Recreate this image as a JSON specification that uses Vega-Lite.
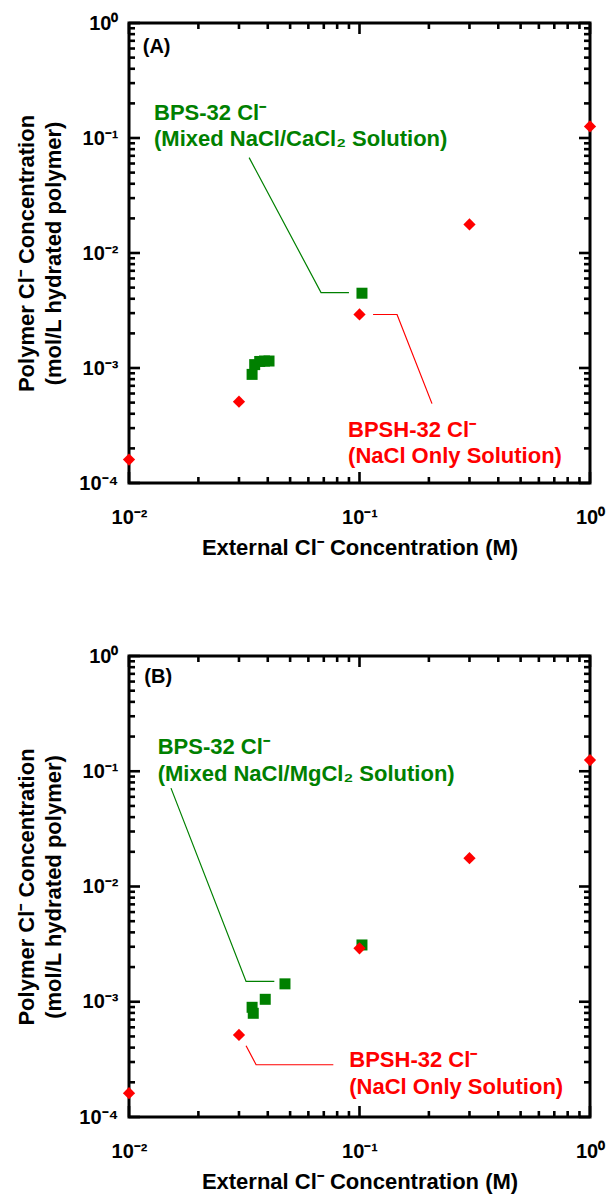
{
  "$schema": "https://vega.github.io/schema/vega-lite/v6.json",
  "background": "white",
  "padding": {"left": 14, "top": 11, "right": 5, "bottom": 3},
  "config": {
    "font": "Liberation Sans",
    "view": {"stroke": "black", "strokeWidth": 3},
    "tick": {"thickness": 2.6, "color": "black", "opacity": 1},
    "axis": {"grid": false, "domain": false, "ticks": false, "labelFlush": false, "labelOverlap": false, "labelColor": "black", "labelFontWeight": "bold", "labelFontSize": 20, "titleColor": "black", "titleFontWeight": "bold", "titleFontSize": 22, "titleLineHeight": 27}
  },
  "datasets": {
    "points": [
      {"panel": "A", "series": "BPS", "x": 0.0342, "y": 0.00088},
      {"panel": "A", "series": "BPS", "x": 0.0351, "y": 0.00107},
      {"panel": "A", "series": "BPS", "x": 0.0369, "y": 0.00114},
      {"panel": "A", "series": "BPS", "x": 0.0387, "y": 0.00115},
      {"panel": "A", "series": "BPS", "x": 0.0405, "y": 0.00115},
      {"panel": "A", "series": "BPS", "x": 0.1025, "y": 0.00447},
      {"panel": "A", "series": "BPSH", "x": 0.01, "y": 0.00016},
      {"panel": "A", "series": "BPSH", "x": 0.03, "y": 0.00051},
      {"panel": "A", "series": "BPSH", "x": 0.1, "y": 0.00292},
      {"panel": "A", "series": "BPSH", "x": 0.3, "y": 0.0177},
      {"panel": "A", "series": "BPSH", "x": 1, "y": 0.126},
      {"panel": "B", "series": "BPS", "x": 0.0342, "y": 0.000895},
      {"panel": "B", "series": "BPS", "x": 0.0346, "y": 0.000794},
      {"panel": "B", "series": "BPS", "x": 0.039, "y": 0.00105},
      {"panel": "B", "series": "BPS", "x": 0.0475, "y": 0.00143},
      {"panel": "B", "series": "BPS", "x": 0.1025, "y": 0.00311},
      {"panel": "B", "series": "BPSH", "x": 0.01, "y": 0.000161},
      {"panel": "B", "series": "BPSH", "x": 0.03, "y": 0.000515},
      {"panel": "B", "series": "BPSH", "x": 0.1, "y": 0.00291},
      {"panel": "B", "series": "BPSH", "x": 0.3, "y": 0.0176},
      {"panel": "B", "series": "BPSH", "x": 1, "y": 0.125}
    ],
    "leaders": [
      {"panel": "A", "series": "BPS", "ord": 1, "x": 0.0332, "y": 0.0675},
      {"panel": "A", "series": "BPS", "ord": 2, "x": 0.0681, "y": 0.00453},
      {"panel": "A", "series": "BPS", "ord": 3, "x": 0.09, "y": 0.00453},
      {"panel": "A", "series": "BPSH", "ord": 1, "x": 0.1145, "y": 0.00292},
      {"panel": "A", "series": "BPSH", "ord": 2, "x": 0.1455, "y": 0.00292},
      {"panel": "A", "series": "BPSH", "ord": 3, "x": 0.2063, "y": 0.00049},
      {"panel": "B", "series": "BPS", "ord": 1, "x": 0.01521, "y": 0.0714},
      {"panel": "B", "series": "BPS", "ord": 2, "x": 0.0322, "y": 0.0015},
      {"panel": "B", "series": "BPS", "ord": 3, "x": 0.0427, "y": 0.0015},
      {"panel": "B", "series": "BPSH", "ord": 1, "x": 0.0322, "y": 0.000415},
      {"panel": "B", "series": "BPSH", "ord": 2, "x": 0.0356, "y": 0.000284},
      {"panel": "B", "series": "BPSH", "ord": 3, "x": 0.077, "y": 0.000284}
    ],
    "notes": [
      {"panel": "A", "series": "BPS", "x": 0.01284, "y": 0.1423, "text": "BPS-32 Cl⁻\n(Mixed NaCl/CaCl₂ Solution)"},
      {"panel": "A", "series": "BPSH", "x": 0.0892, "y": 0.000253, "text": "BPSH-32 Cl⁻\n(NaCl Only Solution)"},
      {"panel": "B", "series": "BPS", "x": 0.01332, "y": 0.1416, "text": "BPS-32 Cl⁻\n(Mixed NaCl/MgCl₂ Solution)"},
      {"panel": "B", "series": "BPSH", "x": 0.0903, "y": 0.000271, "text": "BPSH-32 Cl⁻\n(NaCl Only Solution)"}
    ],
    "tags": [
      {"panel": "A", "x": 0.01147, "y": 0.548, "text": "(A)"},
      {"panel": "B", "x": 0.01165, "y": 0.581, "text": "(B)"}
    ],
    "tickvals": [
      {"dim": "x", "value": 0.01, "grade": "major"}, {"dim": "x", "value": 0.02, "grade": "minor"}, {"dim": "x", "value": 0.03, "grade": "minor"}, {"dim": "x", "value": 0.04, "grade": "minor"}, {"dim": "x", "value": 0.05, "grade": "minor"}, {"dim": "x", "value": 0.06, "grade": "minor"}, {"dim": "x", "value": 0.07, "grade": "minor"}, {"dim": "x", "value": 0.08, "grade": "minor"}, {"dim": "x", "value": 0.09, "grade": "minor"},
      {"dim": "x", "value": 0.1, "grade": "major"}, {"dim": "x", "value": 0.2, "grade": "minor"}, {"dim": "x", "value": 0.3, "grade": "minor"}, {"dim": "x", "value": 0.4, "grade": "minor"}, {"dim": "x", "value": 0.5, "grade": "minor"}, {"dim": "x", "value": 0.6, "grade": "minor"}, {"dim": "x", "value": 0.7, "grade": "minor"}, {"dim": "x", "value": 0.8, "grade": "minor"}, {"dim": "x", "value": 0.9, "grade": "minor"},
      {"dim": "x", "value": 1, "grade": "major"},
      {"dim": "y", "value": 0.0001, "grade": "major"}, {"dim": "y", "value": 0.0002, "grade": "minor"}, {"dim": "y", "value": 0.0003, "grade": "minor"}, {"dim": "y", "value": 0.0004, "grade": "minor"}, {"dim": "y", "value": 0.0005, "grade": "minor"}, {"dim": "y", "value": 0.0006, "grade": "minor"}, {"dim": "y", "value": 0.0007, "grade": "minor"}, {"dim": "y", "value": 0.0008, "grade": "minor"}, {"dim": "y", "value": 0.0009, "grade": "minor"},
      {"dim": "y", "value": 0.001, "grade": "major"}, {"dim": "y", "value": 0.002, "grade": "minor"}, {"dim": "y", "value": 0.003, "grade": "minor"}, {"dim": "y", "value": 0.004, "grade": "minor"}, {"dim": "y", "value": 0.005, "grade": "minor"}, {"dim": "y", "value": 0.006, "grade": "minor"}, {"dim": "y", "value": 0.007, "grade": "minor"}, {"dim": "y", "value": 0.008, "grade": "minor"}, {"dim": "y", "value": 0.009, "grade": "minor"},
      {"dim": "y", "value": 0.01, "grade": "major"}, {"dim": "y", "value": 0.02, "grade": "minor"}, {"dim": "y", "value": 0.03, "grade": "minor"}, {"dim": "y", "value": 0.04, "grade": "minor"}, {"dim": "y", "value": 0.05, "grade": "minor"}, {"dim": "y", "value": 0.06, "grade": "minor"}, {"dim": "y", "value": 0.07, "grade": "minor"}, {"dim": "y", "value": 0.08, "grade": "minor"}, {"dim": "y", "value": 0.09, "grade": "minor"},
      {"dim": "y", "value": 0.1, "grade": "major"}, {"dim": "y", "value": 0.2, "grade": "minor"}, {"dim": "y", "value": 0.3, "grade": "minor"}, {"dim": "y", "value": 0.4, "grade": "minor"}, {"dim": "y", "value": 0.5, "grade": "minor"}, {"dim": "y", "value": 0.6, "grade": "minor"}, {"dim": "y", "value": 0.7, "grade": "minor"}, {"dim": "y", "value": 0.8, "grade": "minor"}, {"dim": "y", "value": 0.9, "grade": "minor"},
      {"dim": "y", "value": 1, "grade": "major"}
    ]
  },
  "bounds": "flush",
  "spacing": 173,
  "vconcat": [
    {
      "width": 461,
      "height": 460,
      "resolve": {"axis": {"x": "independent", "y": "independent"}},
      "layer": [
        {
          "data": {"name": "leaders"},
          "transform": [{"filter": "datum.panel == 'A'"}],
          "mark": {"type": "line", "strokeWidth": 1.2},
          "encoding": {
            "x": {"field": "x", "type": "quantitative", "scale": {"type": "log", "domain": [0.01, 1], "nice": false}, "axis": null},
            "y": {"field": "y", "type": "quantitative", "scale": {"type": "log", "domain": [0.0001, 1], "nice": false}, "axis": null},
            "order": {"field": "ord", "type": "quantitative"},
            "color": {"field": "series", "type": "nominal", "scale": {"domain": ["BPS", "BPSH"], "range": ["#008000", "#ff0000"]}, "legend": null}
          }
        },
        {"data": {"name": "tickvals"}, "transform": [{"filter": "datum.dim == 'x' && datum.grade == 'major'"}], "mark": {"type": "tick", "orient": "vertical", "size": 11, "yOffset": -5.5}, "encoding": {"x": {"field": "value", "type": "quantitative", "axis": null}, "y": {"datum": 0.0001, "axis": null}}},
        {"data": {"name": "tickvals"}, "transform": [{"filter": "datum.dim == 'x' && datum.grade == 'minor'"}], "mark": {"type": "tick", "orient": "vertical", "size": 6, "yOffset": -3}, "encoding": {"x": {"field": "value", "type": "quantitative", "axis": null}, "y": {"datum": 0.0001, "axis": null}}},
        {"data": {"name": "tickvals"}, "transform": [{"filter": "datum.dim == 'x' && datum.grade == 'major'"}], "mark": {"type": "tick", "orient": "vertical", "size": 11, "yOffset": 5.5}, "encoding": {"x": {"field": "value", "type": "quantitative", "axis": null}, "y": {"datum": 1, "axis": null}}},
        {"data": {"name": "tickvals"}, "transform": [{"filter": "datum.dim == 'x' && datum.grade == 'minor'"}], "mark": {"type": "tick", "orient": "vertical", "size": 6, "yOffset": 3}, "encoding": {"x": {"field": "value", "type": "quantitative", "axis": null}, "y": {"datum": 1, "axis": null}}},
        {"data": {"name": "tickvals"}, "transform": [{"filter": "datum.dim == 'y' && datum.grade == 'major'"}], "mark": {"type": "tick", "orient": "horizontal", "size": 11, "xOffset": 5.5}, "encoding": {"y": {"field": "value", "type": "quantitative", "axis": null}, "x": {"datum": 0.01, "axis": null}}},
        {"data": {"name": "tickvals"}, "transform": [{"filter": "datum.dim == 'y' && datum.grade == 'minor'"}], "mark": {"type": "tick", "orient": "horizontal", "size": 6, "xOffset": 3}, "encoding": {"y": {"field": "value", "type": "quantitative", "axis": null}, "x": {"datum": 0.01, "axis": null}}},
        {"data": {"name": "tickvals"}, "transform": [{"filter": "datum.dim == 'y' && datum.grade == 'major'"}], "mark": {"type": "tick", "orient": "horizontal", "size": 11, "xOffset": -5.5}, "encoding": {"y": {"field": "value", "type": "quantitative", "axis": null}, "x": {"datum": 1, "axis": null}}},
        {"data": {"name": "tickvals"}, "transform": [{"filter": "datum.dim == 'y' && datum.grade == 'minor'"}], "mark": {"type": "tick", "orient": "horizontal", "size": 6, "xOffset": -3}, "encoding": {"y": {"field": "value", "type": "quantitative", "axis": null}, "x": {"datum": 1, "axis": null}}},
        {
          "data": {"name": "points"},
          "transform": [{"filter": "datum.panel == 'A' && datum.series == 'BPS'"}],
          "mark": {"type": "point", "shape": "square", "filled": true, "size": 121, "opacity": 1},
          "encoding": {
            "x": {"field": "x", "type": "quantitative",
              "axis": {"orient": "bottom", "title": "External Cl⁻ Concentration (M)", "titlePadding": 10, "labelPadding": 24, "values": [0.01, 0.1, 1], "labelExpr": "datum.value == 0.01 ? '10⁻²' : datum.value == 0.1 ? '10⁻¹' : '10⁰'"}},
            "y": {"field": "y", "type": "quantitative",
              "axis": {"orient": "left", "title": ["Polymer Cl⁻ Concentration", "(mol/L hydrated polymer)"], "titlePadding": 13, "labelPadding": 11, "values": [0.0001, 0.001, 0.01, 0.1, 1], "labelExpr": "datum.value == 1 ? '10⁰' : datum.value == 0.1 ? '10⁻¹' : datum.value == 0.01 ? '10⁻²' : datum.value == 0.001 ? '10⁻³' : '10⁻⁴'"}},
            "color": {"field": "series", "type": "nominal", "legend": null}
          }
        },
        {
          "data": {"name": "points"},
          "transform": [{"filter": "datum.panel == 'A' && datum.series == 'BPSH'"}],
          "mark": {"type": "point", "shape": "diamond", "filled": true, "size": 150, "opacity": 1},
          "encoding": {
            "x": {"field": "x", "type": "quantitative", "axis": null},
            "y": {"field": "y", "type": "quantitative", "axis": null},
            "color": {"field": "series", "type": "nominal", "legend": null}
          }
        },
        {
          "data": {"name": "notes"},
          "transform": [{"filter": "datum.panel == 'A'"}],
          "mark": {"type": "text", "align": "left", "baseline": "alphabetic", "fontSize": 22, "fontWeight": "bold", "lineBreak": "\n", "lineHeight": 26},
          "encoding": {
            "x": {"field": "x", "type": "quantitative", "axis": null},
            "y": {"field": "y", "type": "quantitative", "axis": null},
            "text": {"field": "text"},
            "color": {"field": "series", "type": "nominal", "legend": null}
          }
        },
        {
          "data": {"name": "tags"},
          "transform": [{"filter": "datum.panel == 'A'"}],
          "mark": {"type": "text", "align": "left", "baseline": "alphabetic", "fontSize": 20, "fontWeight": "bold", "color": "black"},
          "encoding": {
            "x": {"field": "x", "type": "quantitative", "axis": null},
            "y": {"field": "y", "type": "quantitative", "axis": null},
            "text": {"field": "text"}
          }
        }
      ]
    },
    {
      "width": 461,
      "height": 461,
      "resolve": {"axis": {"x": "independent", "y": "independent"}},
      "layer": [
        {
          "data": {"name": "leaders"},
          "transform": [{"filter": "datum.panel == 'B'"}],
          "mark": {"type": "line", "strokeWidth": 1.2},
          "encoding": {
            "x": {"field": "x", "type": "quantitative", "scale": {"type": "log", "domain": [0.01, 1], "nice": false}, "axis": null},
            "y": {"field": "y", "type": "quantitative", "scale": {"type": "log", "domain": [0.0001, 1], "nice": false}, "axis": null},
            "order": {"field": "ord", "type": "quantitative"},
            "color": {"field": "series", "type": "nominal", "scale": {"domain": ["BPS", "BPSH"], "range": ["#008000", "#ff0000"]}, "legend": null}
          }
        },
        {"data": {"name": "tickvals"}, "transform": [{"filter": "datum.dim == 'x' && datum.grade == 'major'"}], "mark": {"type": "tick", "orient": "vertical", "size": 11, "yOffset": -5.5}, "encoding": {"x": {"field": "value", "type": "quantitative", "axis": null}, "y": {"datum": 0.0001, "axis": null}}},
        {"data": {"name": "tickvals"}, "transform": [{"filter": "datum.dim == 'x' && datum.grade == 'minor'"}], "mark": {"type": "tick", "orient": "vertical", "size": 6, "yOffset": -3}, "encoding": {"x": {"field": "value", "type": "quantitative", "axis": null}, "y": {"datum": 0.0001, "axis": null}}},
        {"data": {"name": "tickvals"}, "transform": [{"filter": "datum.dim == 'x' && datum.grade == 'major'"}], "mark": {"type": "tick", "orient": "vertical", "size": 11, "yOffset": 5.5}, "encoding": {"x": {"field": "value", "type": "quantitative", "axis": null}, "y": {"datum": 1, "axis": null}}},
        {"data": {"name": "tickvals"}, "transform": [{"filter": "datum.dim == 'x' && datum.grade == 'minor'"}], "mark": {"type": "tick", "orient": "vertical", "size": 6, "yOffset": 3}, "encoding": {"x": {"field": "value", "type": "quantitative", "axis": null}, "y": {"datum": 1, "axis": null}}},
        {"data": {"name": "tickvals"}, "transform": [{"filter": "datum.dim == 'y' && datum.grade == 'major'"}], "mark": {"type": "tick", "orient": "horizontal", "size": 11, "xOffset": 5.5}, "encoding": {"y": {"field": "value", "type": "quantitative", "axis": null}, "x": {"datum": 0.01, "axis": null}}},
        {"data": {"name": "tickvals"}, "transform": [{"filter": "datum.dim == 'y' && datum.grade == 'minor'"}], "mark": {"type": "tick", "orient": "horizontal", "size": 6, "xOffset": 3}, "encoding": {"y": {"field": "value", "type": "quantitative", "axis": null}, "x": {"datum": 0.01, "axis": null}}},
        {"data": {"name": "tickvals"}, "transform": [{"filter": "datum.dim == 'y' && datum.grade == 'major'"}], "mark": {"type": "tick", "orient": "horizontal", "size": 11, "xOffset": -5.5}, "encoding": {"y": {"field": "value", "type": "quantitative", "axis": null}, "x": {"datum": 1, "axis": null}}},
        {"data": {"name": "tickvals"}, "transform": [{"filter": "datum.dim == 'y' && datum.grade == 'minor'"}], "mark": {"type": "tick", "orient": "horizontal", "size": 6, "xOffset": -3}, "encoding": {"y": {"field": "value", "type": "quantitative", "axis": null}, "x": {"datum": 1, "axis": null}}},
        {
          "data": {"name": "points"},
          "transform": [{"filter": "datum.panel == 'B' && datum.series == 'BPS'"}],
          "mark": {"type": "point", "shape": "square", "filled": true, "size": 121, "opacity": 1},
          "encoding": {
            "x": {"field": "x", "type": "quantitative",
              "axis": {"orient": "bottom", "title": "External Cl⁻ Concentration (M)", "titlePadding": 10, "labelPadding": 24, "values": [0.01, 0.1, 1], "labelExpr": "datum.value == 0.01 ? '10⁻²' : datum.value == 0.1 ? '10⁻¹' : '10⁰'"}},
            "y": {"field": "y", "type": "quantitative",
              "axis": {"orient": "left", "title": ["Polymer Cl⁻ Concentration", "(mol/L hydrated polymer)"], "titlePadding": 13, "labelPadding": 11, "values": [0.0001, 0.001, 0.01, 0.1, 1], "labelExpr": "datum.value == 1 ? '10⁰' : datum.value == 0.1 ? '10⁻¹' : datum.value == 0.01 ? '10⁻²' : datum.value == 0.001 ? '10⁻³' : '10⁻⁴'"}},
            "color": {"field": "series", "type": "nominal", "legend": null}
          }
        },
        {
          "data": {"name": "points"},
          "transform": [{"filter": "datum.panel == 'B' && datum.series == 'BPSH'"}],
          "mark": {"type": "point", "shape": "diamond", "filled": true, "size": 150, "opacity": 1},
          "encoding": {
            "x": {"field": "x", "type": "quantitative", "axis": null},
            "y": {"field": "y", "type": "quantitative", "axis": null},
            "color": {"field": "series", "type": "nominal", "legend": null}
          }
        },
        {
          "data": {"name": "notes"},
          "transform": [{"filter": "datum.panel == 'B'"}],
          "mark": {"type": "text", "align": "left", "baseline": "alphabetic", "fontSize": 22, "fontWeight": "bold", "lineBreak": "\n", "lineHeight": 27},
          "encoding": {
            "x": {"field": "x", "type": "quantitative", "axis": null},
            "y": {"field": "y", "type": "quantitative", "axis": null},
            "text": {"field": "text"},
            "color": {"field": "series", "type": "nominal", "legend": null}
          }
        },
        {
          "data": {"name": "tags"},
          "transform": [{"filter": "datum.panel == 'B'"}],
          "mark": {"type": "text", "align": "left", "baseline": "alphabetic", "fontSize": 20, "fontWeight": "bold", "color": "black"},
          "encoding": {
            "x": {"field": "x", "type": "quantitative", "axis": null},
            "y": {"field": "y", "type": "quantitative", "axis": null},
            "text": {"field": "text"}
          }
        }
      ]
    }
  ]
}
